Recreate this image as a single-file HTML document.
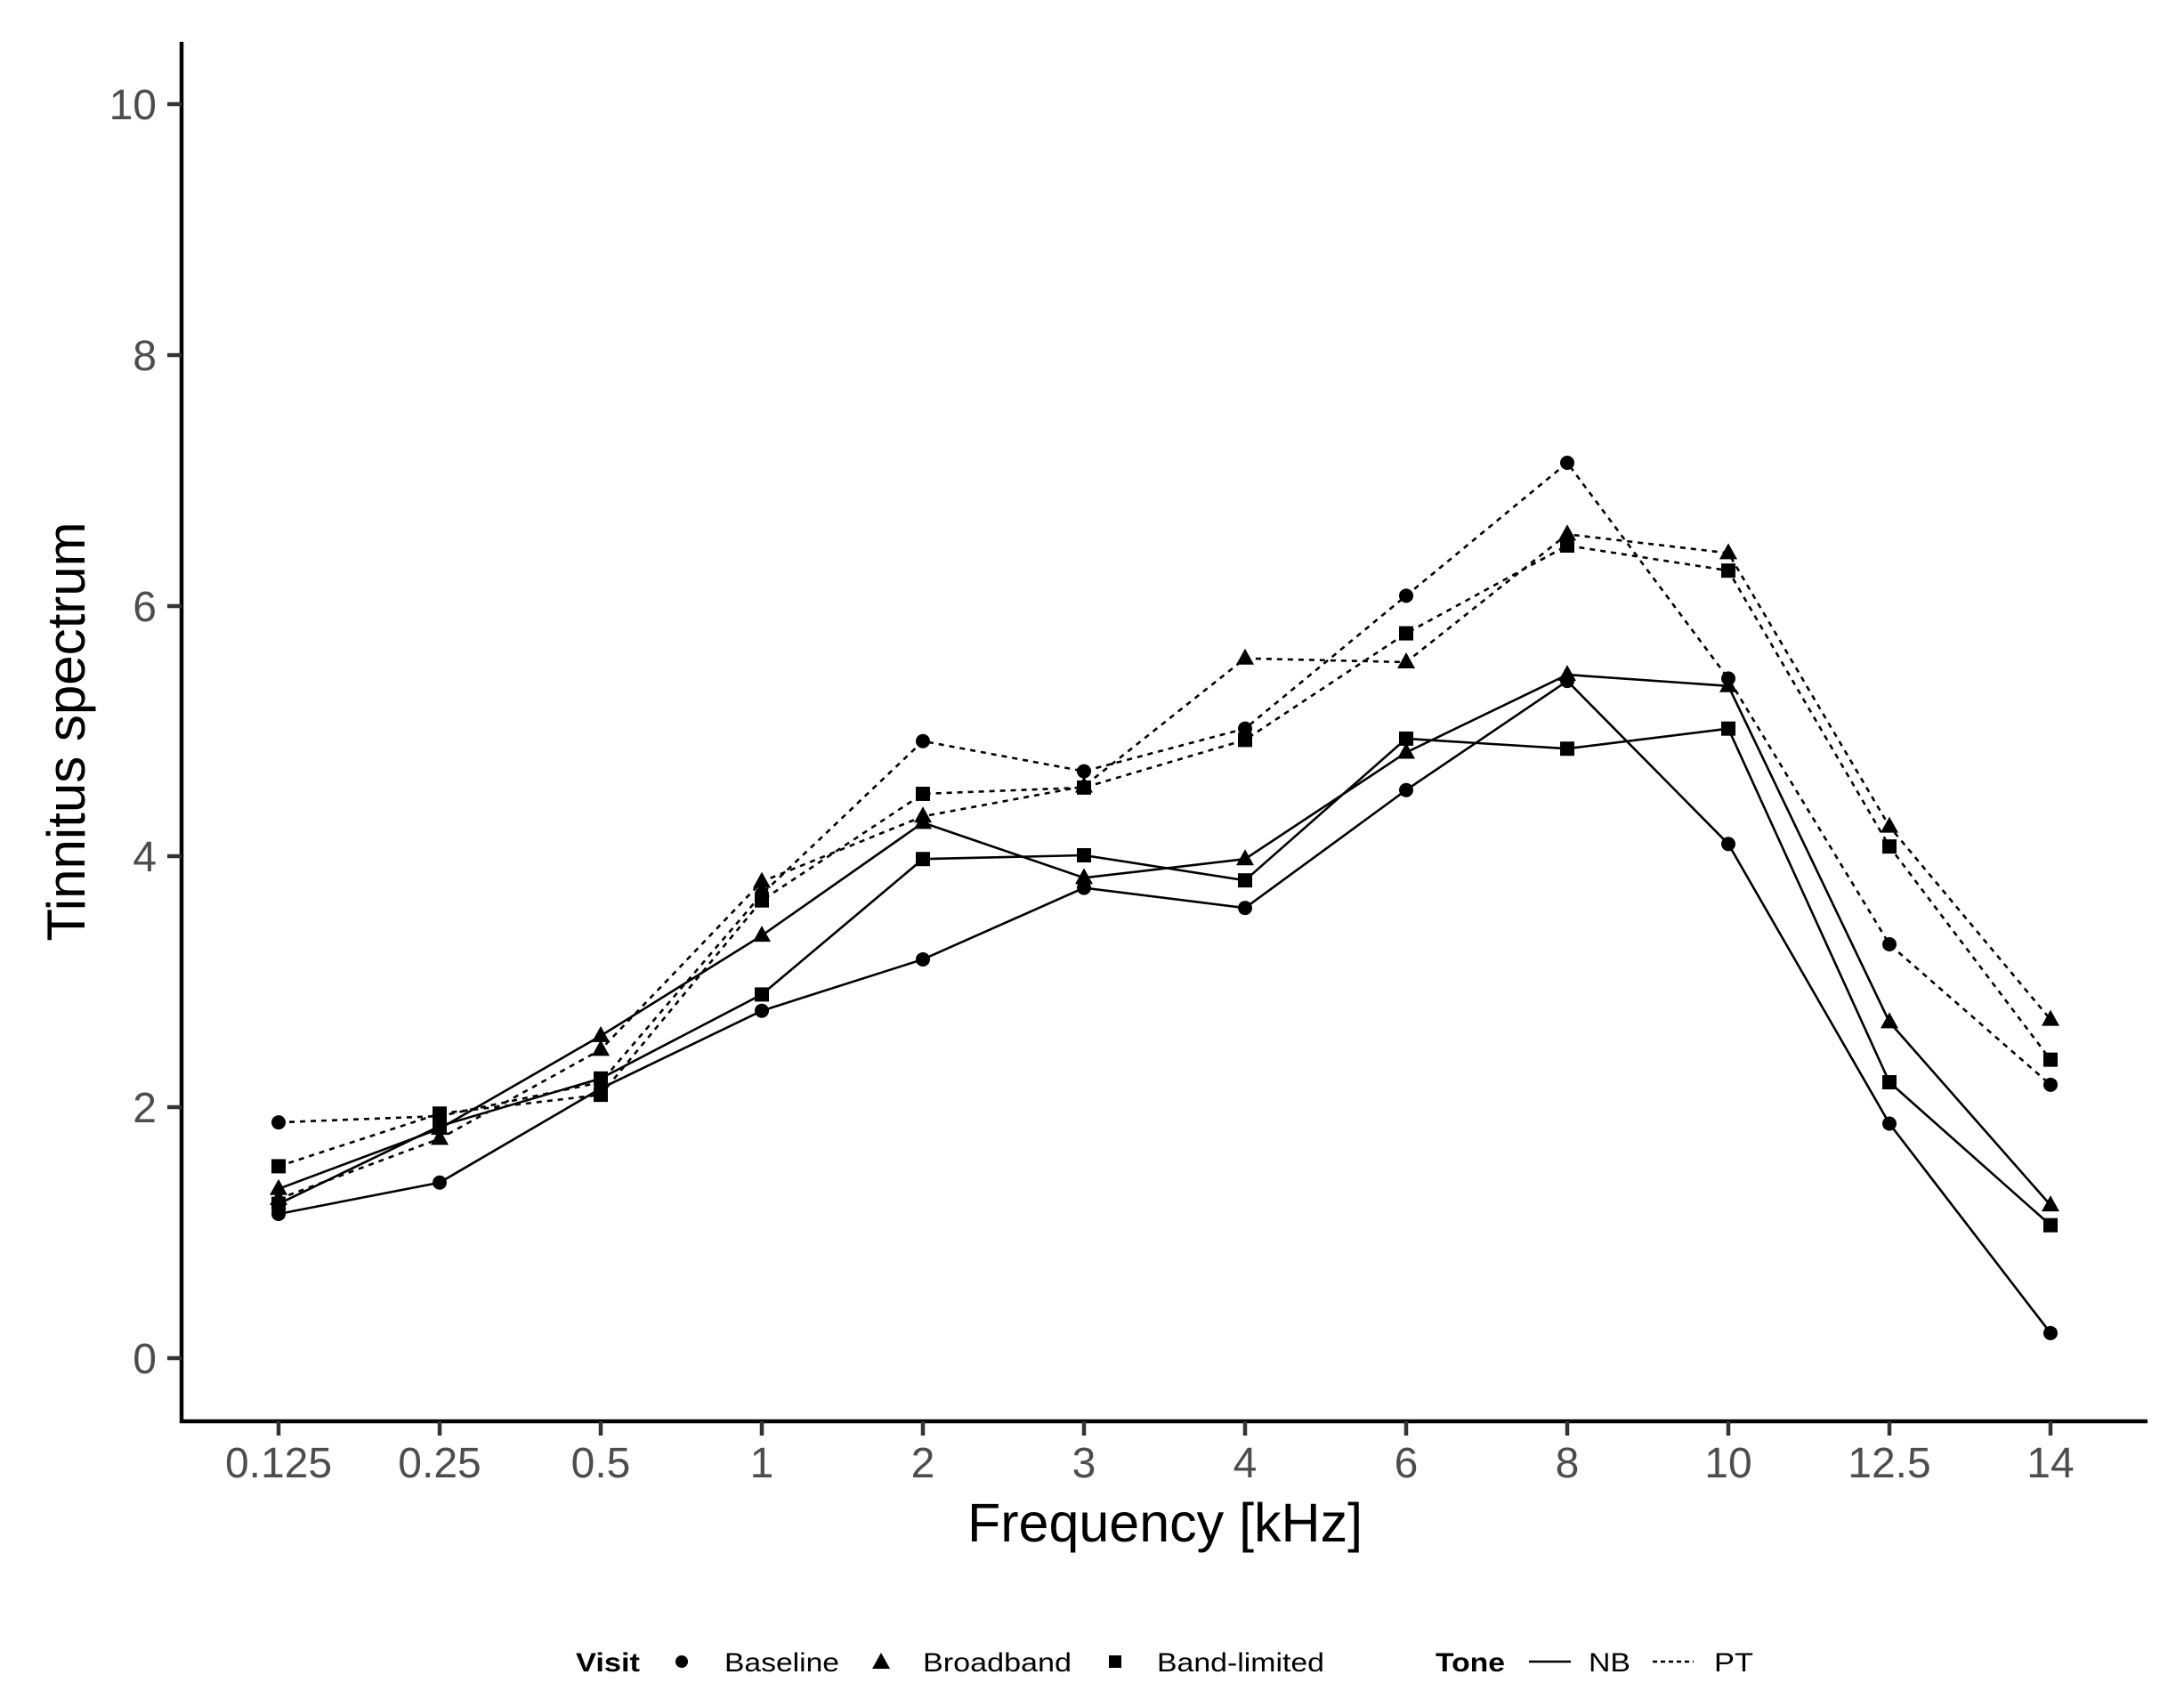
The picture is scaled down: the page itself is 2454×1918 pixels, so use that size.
<!DOCTYPE html>
<html><head><meta charset="utf-8"><style>
html,body{margin:0;padding:0;background:#fff;}
svg{display:block;}
text{font-family:"Liberation Sans",sans-serif;}
</style></head><body>
<svg id="s" width="2454" height="1918" viewBox="0 0 2454 1918" xmlns="http://www.w3.org/2000/svg">
<rect width="2454" height="1918" fill="#fff"/>
<g stroke="#000" stroke-width="4.5" fill="none">
<line x1="204" y1="47" x2="204" y2="1599"/>
<line x1="202" y1="1597" x2="2413" y2="1597"/>
</g>
<g stroke="#333" stroke-width="4.5">
<line x1="188" y1="1526" x2="204" y2="1526"/><line x1="188" y1="1244" x2="204" y2="1244"/>
<line x1="188" y1="962" x2="204" y2="962"/><line x1="188" y1="681" x2="204" y2="681"/>
<line x1="188" y1="399" x2="204" y2="399"/><line x1="188" y1="117" x2="204" y2="117"/>
</g>
<g font-size="48" fill="#4d4d4d" text-anchor="end">
<text x="176" y="1543">0</text><text x="176" y="1261">2</text><text x="176" y="979">4</text>
<text x="176" y="698">6</text><text x="176" y="416">8</text><text x="176" y="134">10</text>
</g>
<g id="xt" stroke="#333" stroke-width="4.5"></g>
<g font-size="48" fill="#4d4d4d" text-anchor="middle">
<text x="313" y="1660">0.125</text><text x="494" y="1660">0.25</text><text x="675" y="1660">0.5</text>
<text x="856" y="1660">1</text><text x="1037" y="1660">2</text><text x="1218" y="1660">3</text>
<text x="1399" y="1660">4</text><text x="1580" y="1660">6</text><text x="1761" y="1660">8</text>
<text x="1942" y="1660">10</text><text x="2123" y="1660">12.5</text><text x="2304" y="1660">14</text>
</g>
<text x="1309" y="1732" font-size="61" text-anchor="middle" fill="#000">Frequency [kHz]</text>
<text transform="translate(95,822) rotate(-90)" font-size="60" text-anchor="middle" fill="#000">Tinnitus spectrum</text>
<g id="data"></g>
<g font-size="30" fill="#000">
<text x="647" y="1878" font-weight="bold" textLength="72" lengthAdjust="spacingAndGlyphs">Visit</text>
<circle cx="766" cy="1867" r="7"/>
<text x="814" y="1878" textLength="129" lengthAdjust="spacingAndGlyphs">Baseline</text>
<polygon points="990,1857 1000,1875 980,1875"/>
<text x="1037" y="1878" textLength="167" lengthAdjust="spacingAndGlyphs">Broadband</text>
<rect x="1246" y="1860" width="14" height="14"/>
<text x="1300" y="1878" textLength="188" lengthAdjust="spacingAndGlyphs">Band-limited</text>
<text x="1613" y="1878" font-weight="bold" textLength="78" lengthAdjust="spacingAndGlyphs">Tone</text>
<line x1="1718" y1="1867" x2="1765" y2="1867" stroke="#000" stroke-width="2.5"/>
<text x="1785" y="1878" textLength="47" lengthAdjust="spacingAndGlyphs">NB</text>
<line x1="1857" y1="1867" x2="1903" y2="1867" stroke="#000" stroke-width="2.5" stroke-dasharray="5,4"/>
<text x="1926" y="1878" textLength="44" lengthAdjust="spacingAndGlyphs">PT</text>
</g>
</svg>
<script>
var NS="http://www.w3.org/2000/svg";
function X(i){return 313+181*i;}
function Y(v){return 1526-140.9*v;}
var xt=document.getElementById("xt");
for(var i=0;i<12;i++){var l=document.createElementNS(NS,"line");l.setAttribute("x1",X(i));l.setAttribute("x2",X(i));l.setAttribute("y1",1597);l.setAttribute("y2",1613);xt.appendChild(l);}
var S=[
["c",0,[1.15,1.4,2.15,2.77,3.18,3.75,3.59,4.53,5.4,4.1,1.87,0.2]],
["c",1,[1.88,1.93,2.2,3.7,4.92,4.68,5.02,6.08,7.14,5.42,3.3,2.18]],
["t",0,[1.35,1.83,2.57,3.37,4.27,3.83,3.98,4.83,5.45,5.36,2.68,1.22]],
["t",1,[1.27,1.75,2.46,3.8,4.32,4.56,5.58,5.55,6.57,6.42,4.24,2.7]],
["s",0,[1.23,1.85,2.23,2.9,3.98,4.01,3.81,4.94,4.86,5.02,2.2,1.06]],
["s",1,[1.53,1.95,2.1,3.65,4.5,4.55,4.93,5.78,6.48,6.28,4.08,2.38]]];
var g=document.getElementById("data");
S.forEach(function(s){
 var p=document.createElementNS(NS,"polyline");
 p.setAttribute("points",s[2].map(function(v,i){return X(i)+","+Y(v);}).join(" "));
 p.setAttribute("fill","none");p.setAttribute("stroke","#000");p.setAttribute("stroke-width","2.6");
 if(s[1])p.setAttribute("stroke-dasharray","6,6");
 g.appendChild(p);
});
S.forEach(function(s){
 s[2].forEach(function(v,i){
  var x=X(i),y=Y(v),e;
  if(s[0]=="c"){e=document.createElementNS(NS,"circle");e.setAttribute("cx",x);e.setAttribute("cy",y);e.setAttribute("r",8);}
  else if(s[0]=="s"){e=document.createElementNS(NS,"rect");e.setAttribute("x",x-8);e.setAttribute("y",y-8);e.setAttribute("width",16);e.setAttribute("height",16);}
  else{e=document.createElementNS(NS,"polygon");e.setAttribute("points",x+","+(y-11)+" "+(x+10)+","+(y+7)+" "+(x-10)+","+(y+7));}
  e.setAttribute("fill","#000");g.appendChild(e);
 });
});
</script>
</body></html>
